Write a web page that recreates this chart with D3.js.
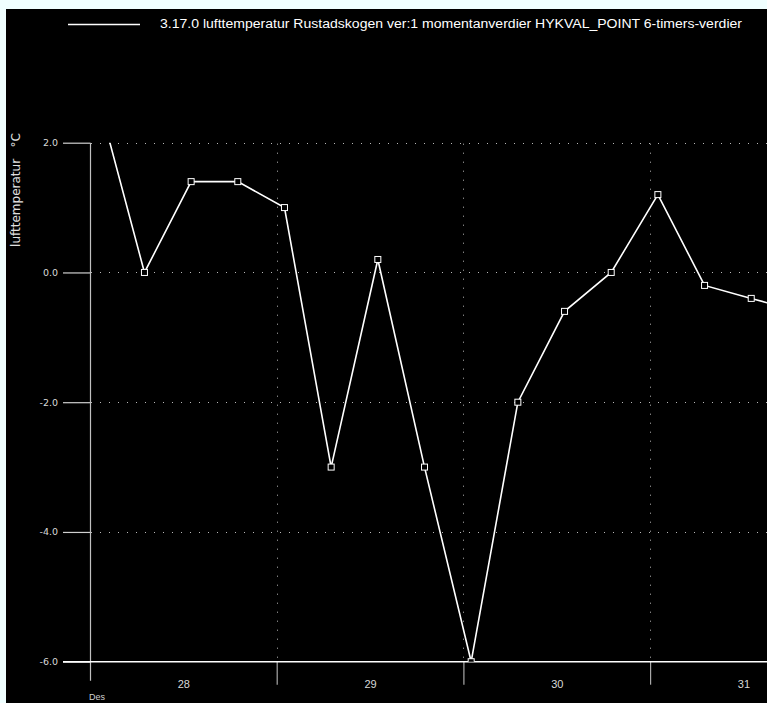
<!DOCTYPE html>
<html>
<head>
<meta charset="utf-8">
<script src="https://cdn.jsdelivr.net/npm/d3@7"></script>
<style>
  html, body { margin: 0; padding: 0; background: #f0ffff; }
  svg { display: block; }
  text { font-family: "Liberation Sans", Arial, sans-serif; }
</style>
</head>
<body>
<svg id="chart" width="767" height="703"></svg>
<script>
// 6-hourly air temperature readings, Rustadskogen
const times = [
  "2011-12-28T01:00Z", "2011-12-28T07:00Z", "2011-12-28T13:00Z", "2011-12-28T19:00Z",
  "2011-12-29T01:00Z", "2011-12-29T07:00Z", "2011-12-29T13:00Z", "2011-12-29T19:00Z",
  "2011-12-30T01:00Z", "2011-12-30T07:00Z", "2011-12-30T13:00Z", "2011-12-30T19:00Z",
  "2011-12-31T01:00Z", "2011-12-31T07:00Z", "2011-12-31T13:00Z", "2011-12-31T19:00Z"
];
const temps = [2.7, 0.0, 1.4, 1.4, 1.0, -3.0, 0.2, -3.0, -6.0, -2.0, -0.6, 0.0, 1.2, -0.2, -0.4, -0.6];
const yTicks = [2.0, 0.0, -2.0, -4.0, -6.0];
const dayLabels = ["28", "29", "30", "31"];
const monthLabel = "Des";
const seriesTitle = "3.17.0 lufttemperatur Rustadskogen ver:1 momentanverdier HYKVAL_POINT 6-timers-verdier";
const yTitle = "lufttemperatur   \u00B0C";

(function () {
  const W = 767, H = 703;
  const svg = d3.select("#chart");

  // frame
  svg.append("rect").attr("width", W).attr("height", H).attr("fill", "#f0ffff");
  svg.append("rect").attr("x", 6).attr("y", 9).attr("width", W - 6).attr("height", H - 9).attr("fill", "#000");

  const plotLeft = 90, plotTop = 142.7, plotBottom = 661.7, plotRight = W;
  const dayStart = new Date("2011-12-28T00:00Z");
  const dayEnd = new Date("2012-01-01T00:00Z");
  const x = d3.scaleUtc().domain([dayStart, dayEnd]).range([plotLeft, plotLeft + 4 * 186.7]);
  const y = d3.scaleLinear().domain([-6, 2]).range([plotBottom, plotTop]);

  const data = times.map((t, i) => ({ t: new Date(t), v: temps[i] }));
  const dayBounds = d3.utcDay.range(dayStart, dayEnd);

  // dotted grid
  const grid = svg.append("g").attr("stroke", "#b8b8b8").attr("stroke-width", 1).attr("stroke-dasharray", "1,8");
  grid.selectAll("line.h").data(yTicks.filter(v => v > -6)).join("line")
    .attr("class", "h")
    .attr("x1", plotLeft + 1).attr("x2", plotRight)
    .attr("y1", d => Math.round(y(d)) + 0.5).attr("y2", d => Math.round(y(d)) + 0.5);
  grid.selectAll("line.v").data(dayBounds.slice(1)).join("line")
    .attr("class", "v")
    .attr("x1", d => Math.round(x(d)) + 0.5).attr("x2", d => Math.round(x(d)) + 0.5)
    .attr("y1", plotBottom - 4).attr("y2", plotTop);

  // y axis
  const yAxis = d3.axisLeft(y).tickValues(yTicks).tickSize(27).tickPadding(5)
    .tickFormat(d => d3.format(".1f")(d).replace("\u2212", "-"));
  const gy = svg.append("g").attr("transform", `translate(${plotLeft},0)`).call(yAxis);
  gy.select(".domain").remove();
  gy.selectAll(".tick line").attr("stroke", "#d0d0d0").attr("stroke-width", 1.2);
  gy.selectAll(".tick text").attr("fill", "#d8d8d8").attr("font-size", 9.5)
    .style("font-family", "'DejaVu Sans', sans-serif");

  // vertical axis line running through the bottom axis
  svg.append("line").attr("x1", plotLeft + 0.5).attr("x2", plotLeft + 0.5)
    .attr("y1", plotTop).attr("y2", plotBottom + 19)
    .attr("stroke", "#c0c0c0").attr("stroke-width", 1.2);

  // day boundary ticks below the axis
  const xAxis = d3.axisBottom(x).tickValues(dayBounds.slice(1)).tickSize(23).tickFormat("");
  const gx = svg.append("g").attr("transform", `translate(0,${plotBottom})`).call(xAxis);
  gx.select(".domain").remove();
  gx.selectAll(".tick line").attr("stroke", "#a8a8a8").attr("stroke-width", 1.2);

  // day labels at midday
  const gl = svg.append("g").attr("transform", `translate(0,${plotBottom})`)
    .call(d3.axisBottom(x).tickValues(dayBounds.map(d => d3.utcHour.offset(d, 12))).tickSize(0).tickPadding(0)
      .tickFormat((d, i) => dayLabels[i]));
  gl.select(".domain").remove();
  gl.selectAll(".tick text").attr("fill", "#d8d8d8").attr("font-size", 11).attr("dy", 0).attr("y", 26);

  // bottom axis line
  svg.append("line").attr("x1", 63).attr("x2", plotRight)
    .attr("y1", plotBottom).attr("y2", plotBottom)
    .attr("stroke", "#fff").attr("stroke-width", 1.4);

  svg.append("text").attr("x", 89).attr("y", 700).attr("fill", "#d0d0d0").attr("font-size", 9).text(monthLabel);

  // y title
  svg.append("text").attr("transform", "translate(20,190) rotate(-90)")
    .attr("text-anchor", "middle").attr("fill", "#e0e0e0").attr("font-size", 12)
    .style("white-space", "pre")
    .style("font-family", "'DejaVu Sans', sans-serif").text(yTitle);

  // legend
  svg.append("line").attr("x1", 68).attr("x2", 140).attr("y1", 24.5).attr("y2", 24.5)
    .attr("stroke", "#fff").attr("stroke-width", 1.5);
  svg.append("text").attr("x", 160).attr("y", 28).attr("fill", "#fff").attr("font-size", 12)
    .attr("textLength", 582).attr("lengthAdjust", "spacingAndGlyphs").text(seriesTitle);

  // series, clipped to the plot area
  svg.append("clipPath").attr("id", "plot")
    .append("rect").attr("x", plotLeft).attr("y", plotTop)
    .attr("width", plotRight - plotLeft).attr("height", plotBottom - plotTop);
  const plot = svg.append("g").attr("clip-path", "url(#plot)");
  plot.append("path").datum(data)
    .attr("fill", "none").attr("stroke", "#fff").attr("stroke-width", 1.6)
    .attr("d", d3.line().x(d => x(d.t)).y(d => y(d.v)));
  plot.selectAll("rect.m").data(data).join("rect")
    .attr("class", "m")
    .attr("x", d => x(d.t) - 3).attr("y", d => y(d.v) - 3)
    .attr("width", 6).attr("height", 6)
    .attr("fill", "#000").attr("stroke", "#fff").attr("stroke-width", 1);
})();
</script>
</body>
</html>
